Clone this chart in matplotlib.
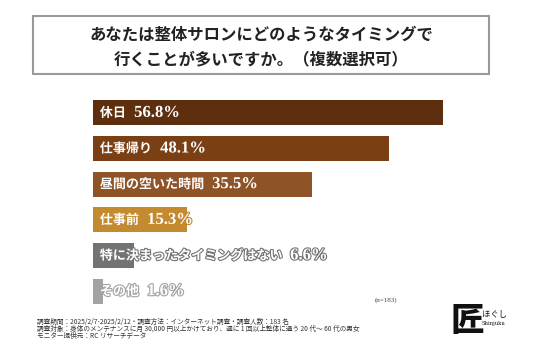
import matplotlib
matplotlib.use("Agg")
import matplotlib.pyplot as plt
import matplotlib.patheffects as pe
from matplotlib.patches import Rectangle

plt.rcParams['font.family'] = ['Noto Sans CJK JP', 'DejaVu Sans']

categories = ["休日", "仕事帰り", "昼間の空いた時間", "仕事前", "特に決まったタイミングはない", "その他"]
values = [56.8, 48.1, 35.5, 15.3, 6.6, 1.6]
colors = ["#5E2F0F", "#7A3F13", "#8E5326", "#C48A30", "#737373", "#A3A3A3"]

title_lines = ["あなたは整体サロンにどのようなタイミングで", "行くことが多いですか。（複数選択可）"]
note_lines = ["調査期間：2025/2/7-2025/2/12・調査方法：インターネット調査・調査人数：183 名",
              "調査対象：身体のメンテナンスに月 30,000 円以上かけており、週に 1 回以上整体に通う 20 代～ 60 代の男女",
              "モニター提供元：RC リサーチデータ"]
n_label = "(n=183)"

W, H = 536, 357
fig = plt.figure(figsize=(W / 100, H / 100), dpi=100)
fig.patch.set_facecolor("white")

def fx(px):
    return px / W

def fy(py):
    return 1 - py / H

# title box
fig.patches.append(Rectangle((fx(33), fy(74)), fx(489) - fx(33), fy(16) - fy(74),
                             transform=fig.transFigure, fill=False, edgecolor="#9a9a9a", lw=1.5))
fig.text(fx(261), fy(35), title_lines[0], ha="center", va="center", fontsize=11.8, fontweight="bold", color="#222222")
fig.text(fx(261), fy(59), title_lines[1], ha="center", va="center", fontsize=11.8, fontweight="bold", color="#222222")

# bars
ax = fig.add_axes([fx(93), fy(309), fx(443) - fx(93), fy(95) - fy(309)])
ypos = list(range(len(values)))
ax.barh(ypos, values, height=0.71, color=colors, edgecolor="none")
ax.set_xlim(0, 56.8)
ax.set_ylim(len(values) - 0.5, -0.5)
ax.axis("off")

for y, cat, v, c in zip(ypos, categories, values, colors):
    stroke = [pe.withStroke(linewidth=1.6, foreground=c)]
    t = ax.text(1.1, y, cat, ha="left", va="center", fontsize=9.4,
                fontweight="bold", color="white", clip_on=False)
    t.set_path_effects(stroke)
    t2 = ax.annotate(f"{v:.1f}%", xy=(1, 0.5), xycoords=t, xytext=(6, 0), textcoords="offset points",
                     ha="left", va="center", fontsize=12, fontweight="bold", color="white",
                     family=["Liberation Serif"], annotation_clip=False)
    t2.set_path_effects(stroke)

fig.text(fx(386), fy(300), n_label, ha="center", va="center", fontsize=5, color="#444444",
         family=["Liberation Serif"])

for i, line in enumerate(note_lines):
    fig.text(fx(37), fy(322 + i * 7), line, ha="left", va="center", fontsize=4.8, color="#333333")

# logo
fig.text(fx(467), fy(321), "匠", ha="center", va="center", fontsize=24, fontweight="black", color="#111111")
fig.text(fx(482), fy(314), "ほぐし", ha="left", va="center", fontsize=6, color="#111111")
fig.text(fx(482), fy(324), "Shinjuku", ha="left", va="center", fontsize=3.8, color="#111111",
         family=["DejaVu Serif"])

fig.savefig("out.png", dpi=100, facecolor="white")
